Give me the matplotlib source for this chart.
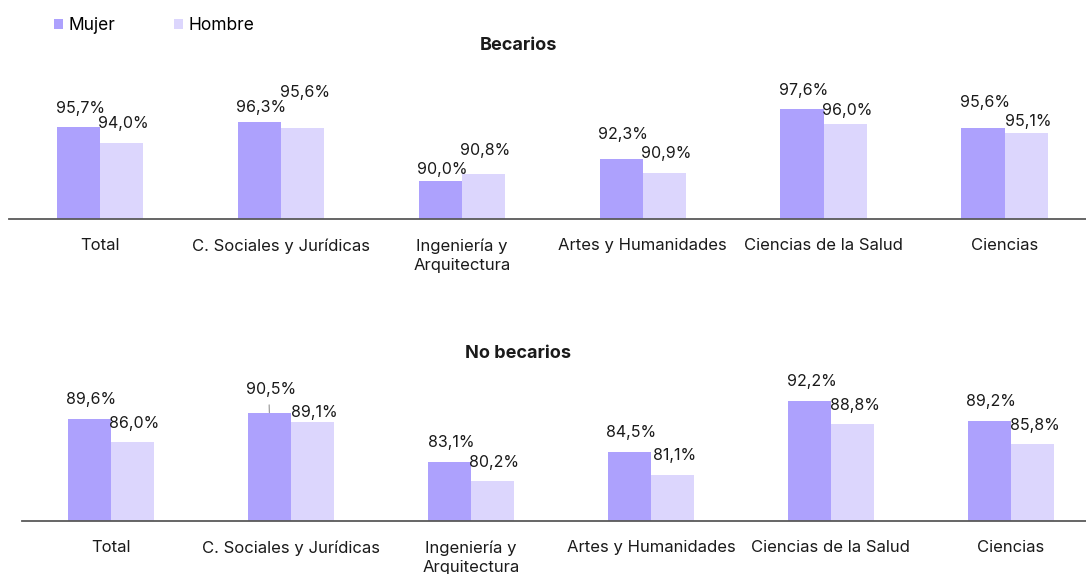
import matplotlib.pyplot as plt
import numpy as np

plt.rcParams['font.family'] = ['Inter', 'DejaVu Sans']

areas = ['Total', 'C. Sociales y Jurídicas', 'Ingeniería y\nArquitectura',
         'Artes y Humanidades', 'Ciencias de la Salud', 'Ciencias']
becarios_mujer = [95.7, 96.3, 90.0, 92.3, 97.6, 95.6]
becarios_hombre = [94.0, 95.6, 90.8, 90.9, 96.0, 95.1]
nobecarios_mujer = [89.6, 90.5, 83.1, 84.5, 92.2, 89.2]
nobecarios_hombre = [86.0, 89.1, 80.2, 81.1, 88.8, 85.8]

c_mujer = '#ada1fd'
c_hombre = '#dcd6fd'
txt = '#1a1a1a'

# separacion (px) entre la barra y su etiqueta, como en el original
gap_bec_m = [14, 10, 7, 20, 14, 21]
gap_bec_h = [15, 31, 19, 15, 9, 7]
gap_nob_m = [15, 19, 15, 15, 15, 15]
gap_nob_h = [14, 5, 14, 15, 14, 14]

fig = plt.figure(figsize=(10.86, 5.74), dpi=100)


def panel(pos, mujer, hombre, gaps_m, gaps_h, xlim, ylim, leader=()):
    ax = fig.add_axes(pos)
    x = np.arange(len(areas))
    w = 0.239
    b1 = ax.bar(x - w / 2, mujer, w, color=c_mujer, label='Mujer')
    b2 = ax.bar(x + w / 2, hombre, w, color=c_hombre, label='Hombre')
    for k, (bars, vals, gaps) in enumerate(((b1, mujer, gaps_m), (b2, hombre, gaps_h))):
        for i, (r, v, g) in enumerate(zip(bars, vals, gaps)):
            props = None
            if (k, i) in leader:
                # linea guia vertical
                props = dict(arrowstyle='-', color='#a0a0a0', lw=0.9,
                             shrinkA=4, shrinkB=0, relpos=(0.45, 0))
            ax.annotate(f'{v:.1f}%'.replace('.', ','),
                        (r.get_x() + r.get_width() / 2, v),
                        xytext=(2, g), textcoords='offset pixels',
                        ha='center', va='baseline', fontsize=11.5, color=txt,
                        arrowprops=props)
    ax.set_xlim(*xlim)
    ax.set_ylim(*ylim)
    ax.set_xticks(x)
    ax.set_xticklabels(areas, fontsize=12, color=txt, linespacing=1.35)
    ax.tick_params(axis='x', length=0, pad=14)
    ax.set_yticks([])
    for s in ('top', 'right', 'left'):
        ax.spines[s].set_visible(False)
    ax.spines['bottom'].set_color('#595959')
    ax.spines['bottom'].set_linewidth(1.3)
    return ax, b1, b2


ax1, h1, h2 = panel([9 / 1086, 1 - 219 / 574, 1077 / 1086, 159 / 574],
                    becarios_mujer, becarios_hombre, gap_bec_m, gap_bec_h,
                    (-0.503, 5.45), (86, 102.8))
ax2, _, _ = panel([22 / 1086, 1 - 521 / 574, 1064 / 1086, 156 / 574],
                  nobecarios_mujer, nobecarios_hombre, gap_nob_m, gap_nob_h,
                  (-0.494, 5.417), (74.1, 97.7), leader=[(0, 1)])

fig.text(518 / 1086, 1 - 46 / 574, 'Becarios', ha='center', va='center',
         fontsize=13, fontweight='bold', color=txt)
fig.text(518 / 1086, 1 - 354 / 574, 'No becarios', ha='center', va='center',
         fontsize=13, fontweight='bold', color=txt)

fig.legend(handles=[h1, h2], loc='center left', bbox_to_anchor=(54 / 1086, 1 - 26 / 574),
           ncol=2, frameon=False, fontsize=12.5, handlelength=0.52, handleheight=0.52,
           handletextpad=0.3, columnspacing=3.4, borderaxespad=0, borderpad=0)

fig.savefig('out.png', dpi=100)
